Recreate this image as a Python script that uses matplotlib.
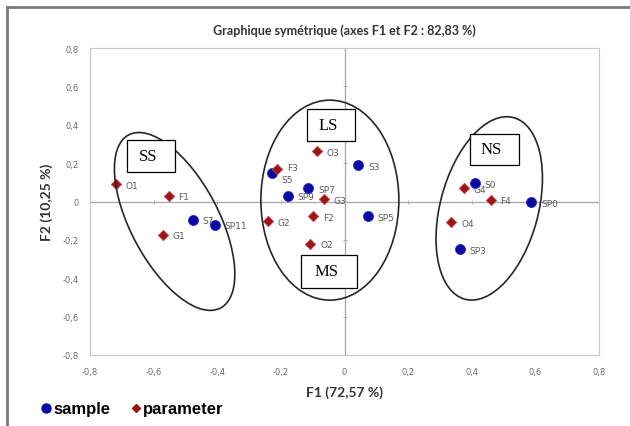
import matplotlib
matplotlib.use('Agg')
import matplotlib.pyplot as plt
from matplotlib.patches import Ellipse, Rectangle
from matplotlib.lines import Line2D
from matplotlib.transforms import ScaledTranslation
from matplotlib.ticker import FuncFormatter

# samples (blue circles)
sample_names = ['S7', 'SP11', 'S5', 'S3', 'SP7', 'SP9', 'SP5', 'S0', 'SP0', 'SP3']
sample_f1 = [-0.477, -0.408, -0.229, 0.044, -0.114, -0.178, 0.073, 0.409, 0.587, 0.362]
sample_f2 = [-0.094, -0.120, 0.146, 0.188, 0.069, 0.031, -0.078, 0.094, -0.005, -0.250]

# parameters (red diamonds)
param_names = ['O1', 'F1', 'G1', 'O3', 'F3', 'G3', 'F2', 'G2', 'O2', 'G4', 'F4', 'O4']
param_f1 = [-0.719, -0.553, -0.571, -0.086, -0.211, -0.065, -0.098, -0.241, -0.107, 0.376, 0.459, 0.336]
param_f2 = [0.089, 0.031, -0.172, 0.264, 0.170, 0.012, -0.075, -0.104, -0.219, 0.068, 0.010, -0.108]

ticks = [-0.8, -0.6, -0.4, -0.2, 0, 0.2, 0.4, 0.6, 0.8]

# group ellipses: centre (data), semi-major / semi-minor (inches), tilt (deg)
group_centres = [(-0.534, -0.104), (-0.046, 0.007), (0.455, -0.036)]
group_major = [0.98, 1.00, 0.94]
group_minor = [0.44, 0.69, 0.49]
group_tilt = [28, 0, -15]

# group label boxes (data coords): x0, x1, y0, y1
box_names = ['SS', 'LS', 'MS', 'NS']
box_x0 = [-0.684, -0.118, -0.136, 0.396]
box_x1 = [-0.532, 0.034, 0.040, 0.547]
box_y0 = [0.155, 0.316, -0.449, 0.189]
box_y1 = [0.319, 0.484, -0.280, 0.354]

BLUE = '#0a0aa0'
RED = '#9a1515'
GREY_TXT = '#595959'

fig = plt.figure(figsize=(6.3, 4.27), dpi=100)
ax = fig.add_axes([90 / 630, 71 / 427, 509 / 630, 307 / 427])

ax.set_xlim(-0.8, 0.8)
ax.set_ylim(-0.8, 0.8)
ax.set_autoscale_on(False)

for side in ax.spines.values():
    side.set_color('#c8c8c8')
    side.set_linewidth(0.8)

ax.axhline(0, color='#a6a6a6', lw=0.9, zorder=1)
ax.axvline(0, color='#a6a6a6', lw=0.9, zorder=1)
# small tick marks on the zero axes (excel style)
ax.plot([0] * len(ticks), ticks, ls='none', marker='_', ms=3, mew=0.7, color='#b0b0b0', zorder=1)
ax.plot(ticks, [0] * len(ticks), ls='none', marker='|', ms=3, mew=0.7, color='#b0b0b0', zorder=1)

ax.set_xticks(ticks)
ax.set_yticks(ticks)
fmt = FuncFormatter(lambda v, p: '0' if abs(v) < 1e-9 else f'{v:.1f}'.replace('.', ','))
ax.xaxis.set_major_formatter(fmt)
ax.yaxis.set_major_formatter(fmt)
ax.tick_params(length=0, labelsize=6, labelcolor='#6a6a6a')
ax.tick_params(axis='x', pad=9)
ax.tick_params(axis='y', pad=8)

ax.set_xlabel('F1 (72,57 %)', fontsize=10, fontweight='bold', color='#333333',
              family='Lato', labelpad=6)
ax.set_ylabel('F2 (10,25 %)', fontsize=10, fontweight='bold', color='#333333',
              family='Lato', labelpad=7)
ax.set_title('Graphique symétrique (axes F1 et F2 : 82,83 %)', fontsize=9,
             fontweight='bold', color='#333333', family='Lato', pad=10)

# points
ax.scatter(sample_f1, sample_f2, s=52, marker='o', color=BLUE, edgecolor='#2a2ad0',
           linewidth=0.6, zorder=4)
ax.scatter(param_f1, param_f2, s=28, marker='D', color=RED, edgecolor='#c24a4a',
           linewidth=0.6, zorder=4)

for name, x, y in zip(sample_names, sample_f1, sample_f2):
    dy = -4 if name == 'S5' else -1
    ax.annotate(name, (x, y), xytext=(7, dy), textcoords='offset points',
                ha='left', va='center', fontsize=6.5, color=GREY_TXT, zorder=3)
for name, x, y in zip(param_names, param_f1, param_f2):
    dy = 1 if name == 'F3' else -1
    ax.annotate(name, (x, y), xytext=(7, dy), textcoords='offset points',
                ha='left', va='center', fontsize=6.5, color=GREY_TXT, zorder=3)

# ellipses drawn in inches around a data-space centre so the tilt stays true
for (cx, cy), a, b, ang in zip(group_centres, group_major, group_minor, group_tilt):
    trans = fig.dpi_scale_trans + ScaledTranslation(cx, cy, ax.transData)
    ax.add_patch(Ellipse((0, 0), 2 * b, 2 * a, angle=ang, transform=trans,
                         fill=False, edgecolor='#262626', lw=1.2, zorder=5))

for name, x0, x1, y0, y1 in zip(box_names, box_x0, box_x1, box_y0, box_y1):
    ax.add_patch(Rectangle((x0, y0), x1 - x0, y1 - y0, facecolor='white',
                           edgecolor='black', lw=0.9, zorder=6))
    ax.text((x0 + x1) / 2 - 0.01, (y0 + y1) / 2, name, ha='center', va='center',
            fontsize=12, family='Liberation Serif', zorder=7)

# legend
handles = [Line2D([], [], ls='none', marker='o', ms=6.5, color=BLUE),
           Line2D([], [], ls='none', marker='D', ms=4.5, color=RED)]
fig.legend(handles, ['sample', 'parameter'], loc='center left',
           bbox_to_anchor=(26 / 630, 1 - 410 / 427), ncol=2, frameon=False,
           handlelength=0.6, handletextpad=0.15, columnspacing=1.2,
           prop={'family': 'Liberation Sans', 'weight': 'bold', 'size': 12})

# outer chart frame
fig.add_artist(Line2D([7 / 630, 7 / 630], [0, 1 - 8 / 427], color='#7a7a7a', lw=2))
fig.add_artist(Line2D([7 / 630, 1], [1 - 8 / 427, 1 - 8 / 427], color='#7a7a7a', lw=2))

fig.savefig('out.png', dpi=100)
